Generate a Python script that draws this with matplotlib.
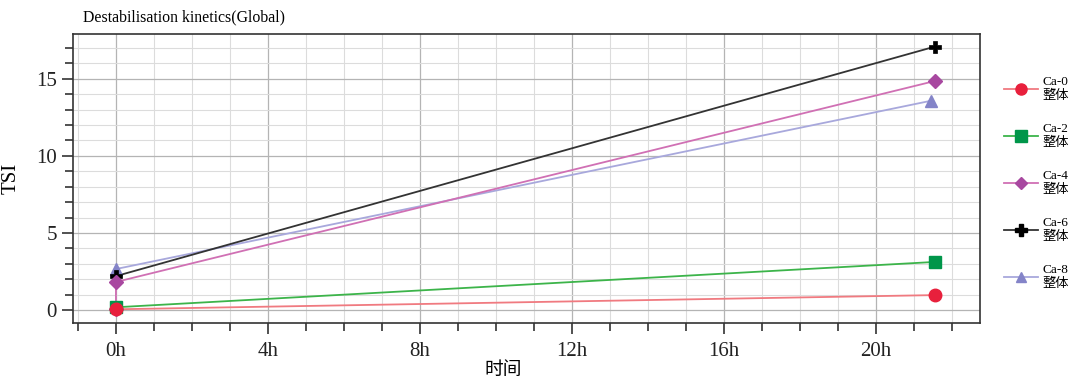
import matplotlib
matplotlib.use("Agg")
import matplotlib.pyplot as plt
from matplotlib.ticker import MultipleLocator, FuncFormatter
from matplotlib.lines import Line2D

# ---- data ----
series_names = ["Ca-0\n整体", "Ca-2\n整体", "Ca-4\n整体", "Ca-6\n整体", "Ca-8\n整体"]
x_ca0 = [0.0, 21.55]
y_ca0 = [0.05, 0.97]
x_ca2 = [0.0, 21.55]
y_ca2 = [0.18, 3.12]
x_ca4 = [0.0, 0.0, 21.55]
y_ca4 = [0.1, 1.82, 14.85]
x_ca6 = [0.0, 21.55]
y_ca6 = [2.2, 17.08]
x_ca8 = [0.0, 21.45]
y_ca8 = [2.66, 13.57]

line_colors = ["#f07a80", "#3cb44a", "#d070b4", "#333333", "#a8a8dc"]
marker_colors = ["#e8203c", "#00964a", "#a848a0", "#000000", "#8484c8"]
markers = ["o", "s", "D", "P", "^"]
msizes = [9, 9, 7, 9, 8]

plt.rcParams['font.family'] = ['Liberation Serif', 'Noto Sans CJK SC']

fig = plt.figure(figsize=(10.75, 3.81), dpi=100)
ax = fig.add_axes([0.0679, 0.1522, 0.8437, 0.7586])

xs = [x_ca0, x_ca2, x_ca4, x_ca6, x_ca8]
ys = [y_ca0, y_ca2, y_ca4, y_ca6, y_ca8]
order = [4, 3, 2, 1, 0]
for i in order:
    ax.plot(xs[i], ys[i], color=line_colors[i], lw=1.3, zorder=3 + (4 - i))
    ax.plot(xs[i], ys[i], ls='none', marker=markers[i], ms=msizes[i],
            mfc=marker_colors[i], mec=marker_colors[i] if i != 3 else "#000000",
            mew=1.0 if i != 3 else 0.5, zorder=10 + (4 - i))

ax.set_xlim(-1.13, 22.74)
ax.set_ylim(-0.84, 17.9)
ax.xaxis.set_major_locator(MultipleLocator(4))
ax.xaxis.set_minor_locator(MultipleLocator(1))
ax.yaxis.set_major_locator(MultipleLocator(5))
ax.yaxis.set_minor_locator(MultipleLocator(1))
ax.xaxis.set_major_formatter(FuncFormatter(lambda v, p: f"{int(round(v))}h"))

ax.grid(which='major', color='#b4b4b4', lw=0.9, zorder=0)
ax.grid(which='minor', color='#dcdcdc', lw=0.8, zorder=0)
ax.set_axisbelow(True)

ax.tick_params(which='both', direction='out', colors='#222222', labelsize=15)
ax.tick_params(which='major', length=8, width=1.1)
ax.tick_params(which='minor', length=6, width=1.1)
ax.tick_params(axis='x', pad=6)
for sp in ax.spines.values():
    sp.set_color('#333333')
    sp.set_linewidth(1.2)

ax.set_ylabel("TSI", fontsize=15)
ax.yaxis.set_label_coords(-0.058, 0.5)
ax.set_xlabel("时间", fontsize=13.5, family=['Noto Sans CJK SC'])
ax.xaxis.set_label_coords(0.474, -0.125)
fig.text(0.077, 0.955, "Destabilisation kinetics(Global)", fontsize=11.4, ha='left', va='center')

handles = [Line2D([0], [0], color=line_colors[i], lw=1.3, marker=markers[i], ms=msizes[i] - 1,
                  mfc=marker_colors[i], mec=marker_colors[i]) for i in range(5)]
leg = fig.legend(handles, series_names, loc='upper left', bbox_to_anchor=(0.929, 0.815),
                 frameon=False, fontsize=9.5, handlelength=2.6, handletextpad=0.35,
                 labelspacing=1.6, borderaxespad=0)

fig.savefig("out.png", dpi=100)
